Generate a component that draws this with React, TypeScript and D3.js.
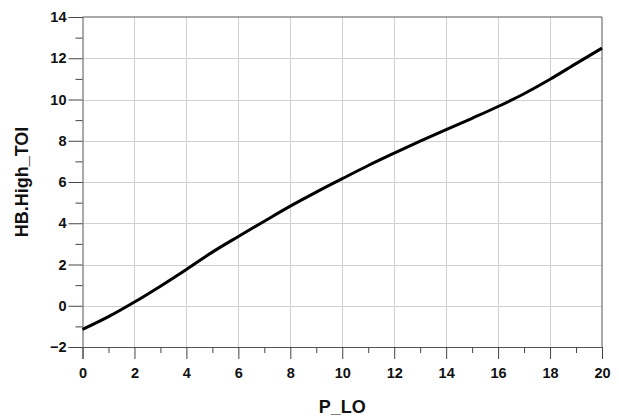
import React, { useRef, useEffect } from "react";
import * as d3 from "d3";

const pLo = [0, 1, 2, 3, 4, 5, 6, 7, 8, 9, 10, 11, 12, 13, 14, 15, 16, 17, 18, 19, 20];
const highToi = [
  -1.15, -0.53, 0.18, 0.95, 1.76, 2.6, 3.36, 4.1, 4.83, 5.51, 6.16,
  6.8, 7.4, 7.98, 8.54, 9.09, 9.66, 10.28, 10.98, 11.74, 12.49,
];
const xTicks = [0, 2, 4, 6, 8, 10, 12, 14, 16, 18, 20];
const xMinor = [1, 3, 5, 7, 9, 11, 13, 15, 17, 19];
const yTicks = [-2, 0, 2, 4, 6, 8, 10, 12, 14];
const yMinor = [-1, 1, 3, 5, 7, 9, 11, 13];

export default function App() {
  const ref = useRef<SVGSVGElement>(null);

  useEffect(() => {
    const width = 619, height = 417;
    const margin = { top: 17, right: 17, bottom: 70, left: 82.5 };
    const svg = d3.select(ref.current);
    svg.selectAll("*").remove();

    const x = d3.scaleLinear().domain([0, 20]).range([margin.left, width - margin.right]);
    const y = d3.scaleLinear().domain([-2, 14]).range([height - margin.bottom, margin.top]);

    const font = "'Liberation Sans', Arial, sans-serif";

    // grid
    const grid = svg.append("g").attr("stroke", "#d0d0d0").attr("stroke-width", 1);
    grid.selectAll(".gx").data(xTicks.slice(1, -1)).enter().append("line")
      .attr("x1", d => Math.round(x(d)) + 0.5).attr("x2", d => Math.round(x(d)) + 0.5)
      .attr("y1", y(14)).attr("y2", y(-2));
    grid.selectAll(".gy").data(yTicks.slice(1, -1)).enter().append("line")
      .attr("y1", d => Math.round(y(d)) + 0.5).attr("y2", d => Math.round(y(d)) + 0.5)
      .attr("x1", x(0)).attr("x2", x(20));

    // axes
    const xAxis = svg.append("g").attr("transform", `translate(0,${y(-2)})`)
      .call(d3.axisBottom(x).tickValues(xTicks).tickSize(12).tickPadding(6).tickFormat(d3.format("d")));
    svg.append("g").attr("transform", `translate(0,${y(-2)})`)
      .call(d3.axisBottom(x).tickValues(xMinor).tickSize(6).tickFormat(() => ""))
      .select(".domain").remove();
    const yAxis = svg.append("g").attr("transform", `translate(${x(0)},0)`)
      .call(d3.axisLeft(y).tickValues(yTicks).tickSize(14).tickPadding(2).tickFormat(d3.format("d")));
    svg.append("g").attr("transform", `translate(${x(0)},0)`)
      .call(d3.axisLeft(y).tickValues(yMinor).tickSize(7).tickFormat(() => ""))
      .select(".domain").remove();

    svg.selectAll(".domain").attr("stroke", "#555");
    svg.selectAll(".tick line").attr("stroke", "#444");
    [xAxis, yAxis].forEach(a => a.selectAll("text")
      .attr("font-family", font).attr("font-size", 14.5).attr("font-weight", "bold").attr("fill", "#111"));
    xAxis.selectAll("text").attr("dy", "0.9em");

    // frame top/right
    svg.append("path")
      .attr("d", `M${x(0)},${y(14)}H${x(20)}V${y(-2)}`)
      .attr("fill", "none").attr("stroke", "#555").attr("stroke-width", 1);

    // curve
    const line = d3.line<number>()
      .x((_, i) => x(pLo[i]))
      .y(d => y(d))
      .curve(d3.curveMonotoneX);
    svg.append("path").datum(highToi)
      .attr("d", line)
      .attr("fill", "none").attr("stroke", "#000").attr("stroke-width", 3);

    // titles
    svg.append("text")
      .attr("x", (x(0) + x(20)) / 2).attr("y", 413)
      .attr("text-anchor", "middle")
      .attr("font-family", font).attr("font-size", 18).attr("font-weight", "bold").attr("fill", "#111")
      .text("P_LO");
    svg.append("text")
      .attr("transform", `translate(28,${(y(14) + y(-2)) / 2}) rotate(-90)`)
      .attr("text-anchor", "middle")
      .attr("font-family", font).attr("font-size", 18).attr("font-weight", "bold").attr("fill", "#111")
      .text("HB.High_TOI");
  }, []);

  return (
    <svg ref={ref} width={619} height={417}
      style={{ position: "absolute", left: 0, top: 0, background: "#fff" }} />
  );
}
